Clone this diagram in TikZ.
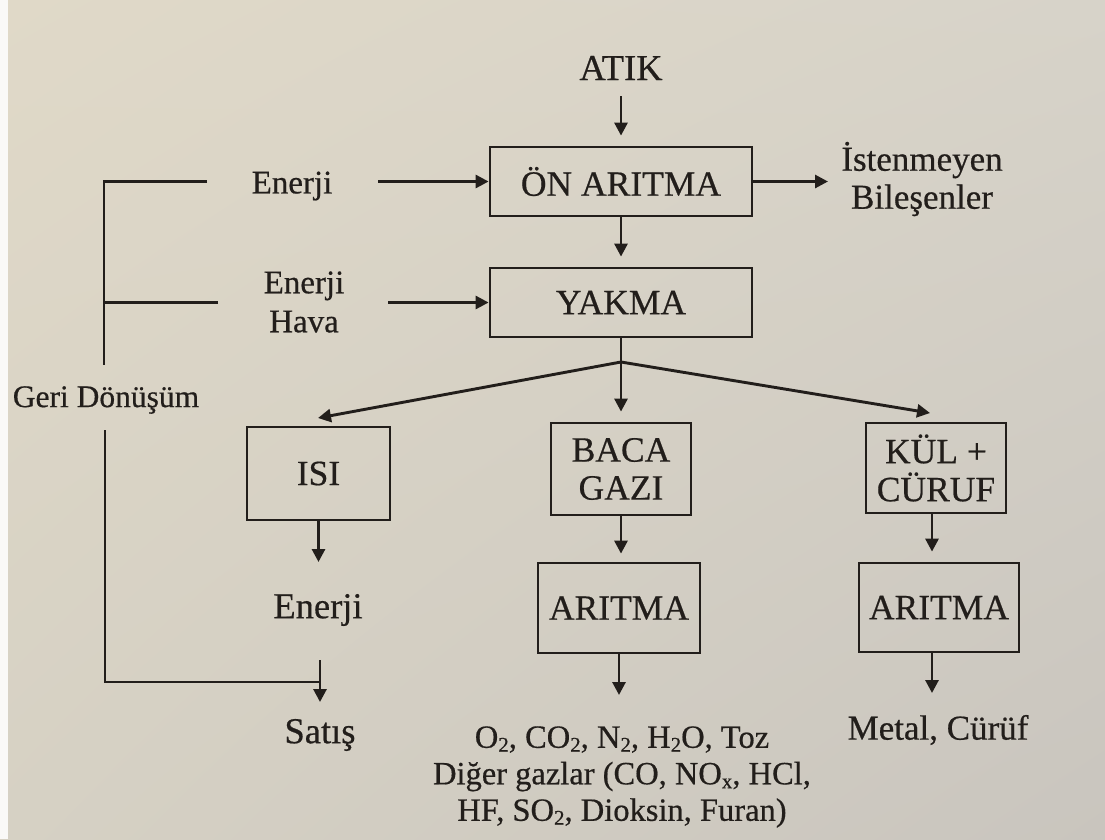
\documentclass[tikz,border=0pt]{standalone}
\usepackage{fontspec}
\setmainfont{Liberation Serif}[FakeBold=0.5]
\usetikzlibrary{arrows.meta,shadings}
\definecolor{ink}{RGB}{34,30,27}
\definecolor{pUL}{RGB}{224,217,200}
\definecolor{pUR}{RGB}{215,211,201}
\definecolor{pLL}{RGB}{214,209,196}
\definecolor{pLR}{RGB}{201,197,190}
\newcommand\sbx[1]{\raisebox{-0.12em}{\fontsize{21}{21}\selectfont #1}}
\newcommand\fs[1]{\fontsize{#1}{1.1\dimexpr#1pt\relax}\selectfont}
\begin{document}
\begin{tikzpicture}[x=1pt,y=-1pt,
  box/.style={draw=ink, line width=2.8pt, inner sep=0pt, align=center, font=\fontsize{35.5}{38}\selectfont, text=ink},
  lbl/.style={inner sep=0pt, align=center, font=\fontsize{36.5}{38.5}\selectfont, text=ink},
  arr/.style={draw=ink, line width=2.9pt, -{Triangle[length=13pt,width=13pt]}},
  ln/.style={draw=ink, line width=2.9pt},
]
\useasboundingbox (0,0) rectangle (1105,839);
\shade[upper left=pUL, upper right=pUR, lower left=pLL, lower right=pLR] (0,0) rectangle (1105,839);
\fill[white!85!pUL] (0,0) rectangle (8,839);

% nodes
\node[lbl] (atik) at (621,68) {ATIK};
\node[box, minimum width=262pt, minimum height=69pt] (on) at (621,181.5) {ÖN ARITMA};
\node[box, minimum width=262pt, minimum height=69pt] (yakma) at (621,302.5) {YAKMA};
\node[lbl, font=\fontsize{35}{38}\selectfont] (ist) at (922,179) {İstenmeyen\\Bileşenler};
\node[lbl, font=\fontsize{33}{38}\selectfont] (en1) at (292,186) {Enerji};
\node[lbl, font=\fontsize{33}{39}\selectfont] (enh) at (304,302) {Enerji\\Hava};
\node[lbl, font=\fontsize{31.5}{36}\selectfont] (geri) at (106,400) {Geri Dönüşüm};
\node[box, minimum width=143pt, minimum height=93pt] (isi) at (318.5,473.5) {ISI};
\node[box, minimum width=140pt, minimum height=92pt] (baca) at (621,469) {BACA\\GAZI};
\node[box, minimum width=140pt, minimum height=90pt] (kul) at (936,468) {KÜL +\\CÜRUF};
\node[box, minimum width=162pt, minimum height=90pt] (ar1) at (619,608) {ARITMA};
\node[box, minimum width=160pt, minimum height=89pt] (ar2) at (939,607.5) {ARITMA};
\node[lbl] (en2) at (318,610) {Enerji};
\node[lbl] (satis) at (320,735) {Satış};
\node[lbl, font=\fontsize{35}{38}\selectfont] (metal) at (938,730) {Metal, Cürüf};
\node[lbl, font=\fontsize{32.5}{36.5}\selectfont] (gas) at (622,777) {O\sbx{2}, CO\sbx{2}, N\sbx{2}, H\sbx{2}O, Toz\\Diğer gazlar (CO, NO\sbx{x}, HCl,\\HF, SO\sbx{2}, Dioksin, Furan)};

% coordinates
\coordinate (split) at (621,362);
\coordinate (e1s) at (378,181.5);
\coordinate (e2s) at (388,302.5);
\coordinate (g1) at (207,181.5);
\coordinate (gv1) at (104,365);
\coordinate (g2) at (218,302.5);
\coordinate (gv2) at (105,430);
\coordinate (gj) at (320,682);
\coordinate (s1) at (320,660);
\coordinate (s2) at (320,702);
\coordinate (isiT) at (318,418);
\coordinate (kulT) at (930,413);
\coordinate (e2t) at (318.5,562);
\coordinate (ar1o) at (619,695);
\coordinate (ar2o) at (932,693);
\coordinate (istA) at (828,181.5);

% connectors
\draw[arr, shorten <=16pt, shorten >=10pt] (atik) -- (on);
\draw[arr, shorten >=10pt] (on) -- (yakma);
\draw[arr] (e1s) -- (on.west);
\draw[arr] (e2s) -- (yakma.west);
\draw[arr] (on.east) -- (istA);
\draw[ln] (g1) -| (gv1);
\draw[ln] (g2) -- (g2 -| gv1);
\draw[ln] (gv2) |- (gj);
\draw[arr] (s1) -- (s2);
\draw[ln] (yakma.south) -- (split);
\draw[arr] (split) -- (isiT);
\draw[arr, shorten >=10pt] (split) -- (baca.north);
\draw[arr] (split) -- (kulT);
\draw[arr] (isi.south) -- (e2t);
\draw[arr, shorten >=8pt] (baca.south) -- (baca.south |- ar1.north);
\draw[arr] (ar1.south) -- (ar1o);
\draw[arr] ([xshift=-4pt]kul.south) -- ([xshift=-7pt,yshift=10pt]ar2.north);
\draw[arr] ([xshift=-7pt]ar2.south) -- (ar2o);
\end{tikzpicture}
\end{document}
